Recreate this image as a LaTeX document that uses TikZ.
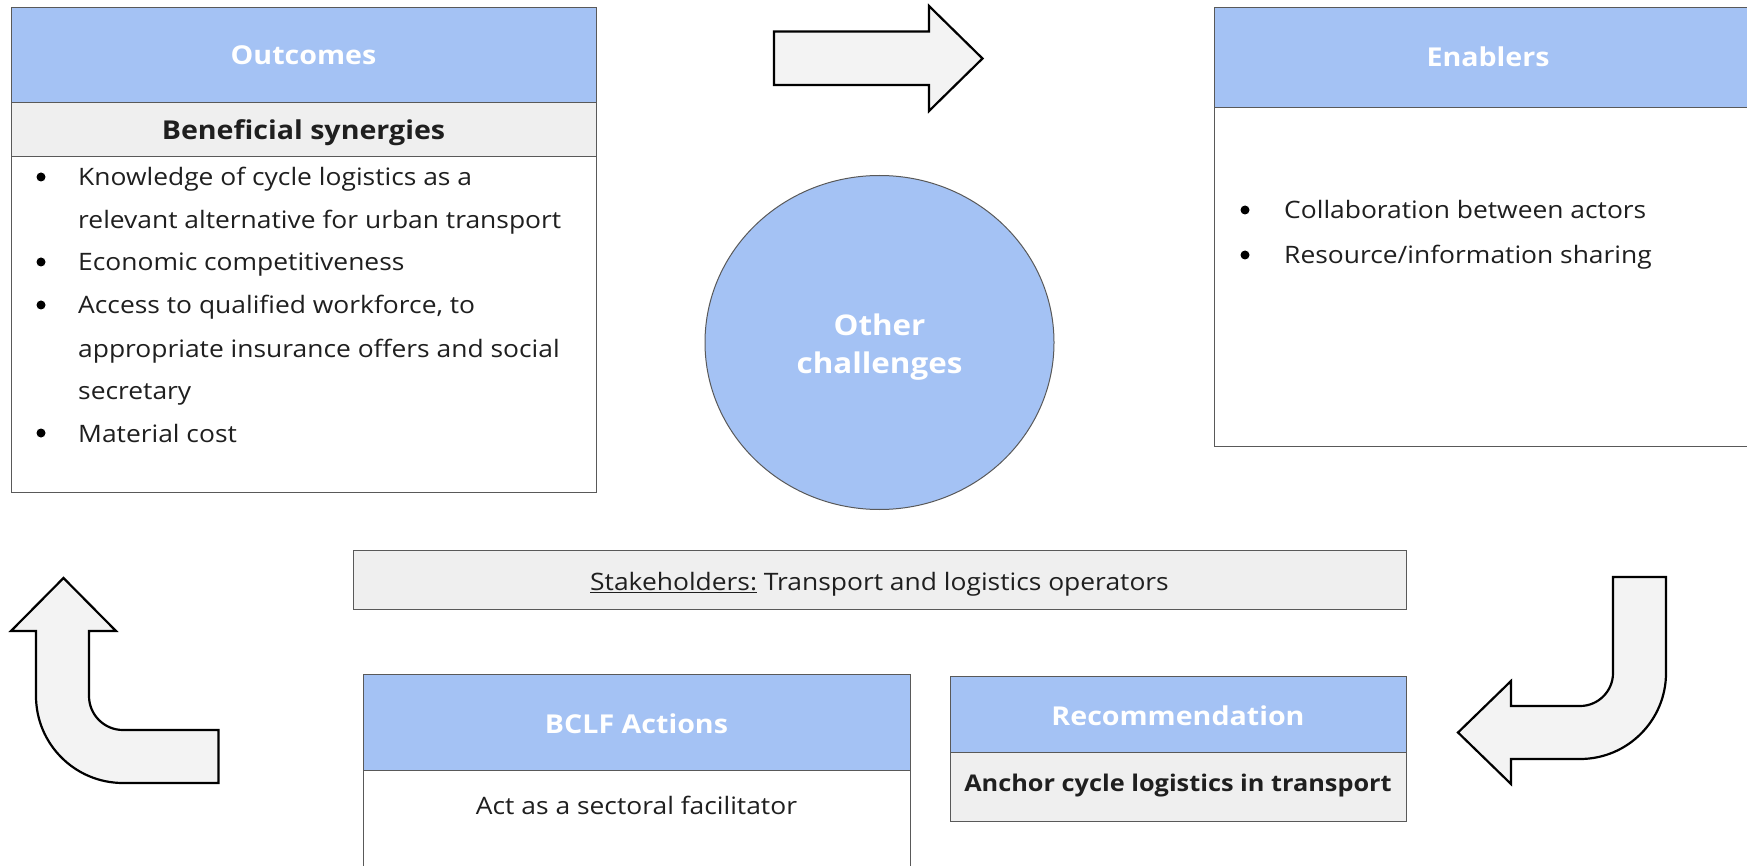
\documentclass[tikz,border=0pt]{standalone}
\usepackage{fontspec}
\setmainfont[FakeStretch=1.1]{Open Sans}
\usetikzlibrary{shapes.geometric}
\definecolor{hblue}{HTML}{A4C2F4}
\definecolor{lgray}{HTML}{EFEFEF}
\definecolor{agray}{HTML}{F3F3F3}
\definecolor{bord}{HTML}{595959}
\definecolor{txt}{HTML}{1F1F1F}
\tikzset{
  boxbody/.style={draw=bord, line width=1pt, fill=white, inner sep=0pt, anchor=north west},
  hdr/.style={draw=bord, line width=1pt, fill=hblue, inner sep=0pt, anchor=north west},
  subhdr/.style={draw=bord, line width=1pt, fill=lgray, inner sep=0pt, anchor=north west},
  hdrtxt/.style={anchor=base, inner sep=0pt, text=white, font=\fontsize{26}{31}\selectfont\bfseries},
  subtxt/.style={anchor=base, inner sep=0pt, text=txt, font=\fontsize{26}{31}\selectfont\bfseries},
  bodytxt/.style={anchor=base west, inner sep=0pt, text=txt, font=\fontsize{24}{29}\selectfont},
  centxt/.style={anchor=base, inner sep=0pt, text=txt, font=\fontsize{24}{29}\selectfont},
  bul/.style={circle, fill=black, inner sep=0pt, minimum size=9pt},
  bigarrow/.style={draw=black, line width=2.2pt, fill=agray, line join=miter}
}
\begin{document}
\begin{tikzpicture}[x=1pt,y=-1pt]
\useasboundingbox (0,0) rectangle (1747,866);
\clip (0,0) rectangle (1747,866);
\fill[white] (0,0) rectangle (1747,866);

% Outcomes
\node[boxbody, minimum width=585, minimum height=485] (outBox) at (11,7) {};
\node[hdr, minimum width=585, minimum height=95] (outHead) at (11,7) {};
\node[hdrtxt] (outTitle) at (303.5,65) {Outcomes};
\node[subhdr, minimum width=585, minimum height=54] (outSub) at (11,102) {};
\node[subtxt] (outSubTxt) at (303.5,140) {Beneficial synergies};
\foreach \n/\y in {1/177,2/262,3/305,4/433}{
  \node[bul] (ob\n) at (41,\y) {};
}
\node[bodytxt] (ot1) at (78,186) {Knowledge of cycle logistics as a};
\node[bodytxt] (ot2) at (78,229) {relevant alternative for urban transport};
\node[bodytxt] (ot3) at (78,271) {Economic competitiveness};
\node[bodytxt] (ot4) at (78,314) {Access to qualified workforce, to};
\node[bodytxt] (ot5) at (78,357) {appropriate insurance offers and social};
\node[bodytxt] (ot6) at (78,399) {secretary};
\node[bodytxt] (ot7) at (78,442) {Material cost};

% Enablers
\node[boxbody, minimum width=570, minimum height=439] (enBox) at (1214,7) {};
\node[hdr, minimum width=570, minimum height=100] (enHead) at (1214,7) {};
\node[hdrtxt] (enTitle) at (1488,67) {Enablers};
\node[bul] (eb1) at (1245,210) {};
\node[bul] (eb2) at (1245,255) {};
\node[bodytxt] (et1) at (1284,219) {Collaboration between actors};
\node[bodytxt] (et2) at (1284,264) {Resource/information sharing};

% Top arrow
\draw[bigarrow] (774,31.5) -- (929,31.5) -- (929,6) -- (982.5,58.5) -- (929,111) -- (929,85) -- (774,85) -- cycle;

% Circle
\node[ellipse, draw=bord, line width=1pt, fill=hblue, minimum width=349, minimum height=334, inner sep=0pt] (other) at (879.5,342.5) {};
\node[hdrtxt, font=\fontsize{28.5}{34}\selectfont\bfseries] (otherT1) at (879.5,335) {Other};
\node[hdrtxt, font=\fontsize{28.5}{34}\selectfont\bfseries] (otherT2) at (879.5,373) {challenges};

% Stakeholders
\node[draw=bord, line width=1pt, fill=lgray, minimum width=1053, minimum height=59, inner sep=0pt, anchor=north west] (stake) at (353,550) {};
\node[centxt] (stakeTxt) at (879.5,590) {\underline{Stakeholders:} Transport and logistics operators};

% BCLF Actions
\node[boxbody, minimum width=547, minimum height=260] (bclfBox) at (363,674) {};
\node[hdr, minimum width=547, minimum height=96] (bclfHead) at (363,674) {};
\node[hdrtxt] (bclfTitle) at (636.5,733) {BCLF Actions};
\node[centxt] (bclfTxt) at (636.5,814) {Act as a sectoral facilitator};

% Recommendation
\node[boxbody, fill=lgray, minimum width=456, minimum height=145] (recBox) at (950,676) {};
\node[hdr, minimum width=456, minimum height=76] (recHead) at (950,676) {};
\node[hdrtxt] (recTitle) at (1178,725) {Recommendation};
\node[centxt, font=\fontsize{23}{28}\selectfont\bfseries] (recTxt) at (1178,791) {Anchor cycle logistics in transport};

% Bent arrow lower right
\draw[bigarrow] (1613,577) -- (1666,577) -- (1666,673) arc[start angle=0,end angle=90,radius=86] -- (1511,759) -- (1511,784) -- (1458,732.5) -- (1511,681) -- (1511,706) -- (1580,706) arc[start angle=90,end angle=0,radius=33] -- cycle;

% Bent arrow lower left
\draw[bigarrow] (63.5,578) -- (116,631) -- (89,631) -- (89,696) arc[start angle=180,end angle=90,radius=34] -- (218.5,730) -- (218.5,783) -- (123,783) arc[start angle=90,end angle=180,radius=87] -- (36,631) -- (11,631) -- cycle;
\end{tikzpicture}
\end{document}
